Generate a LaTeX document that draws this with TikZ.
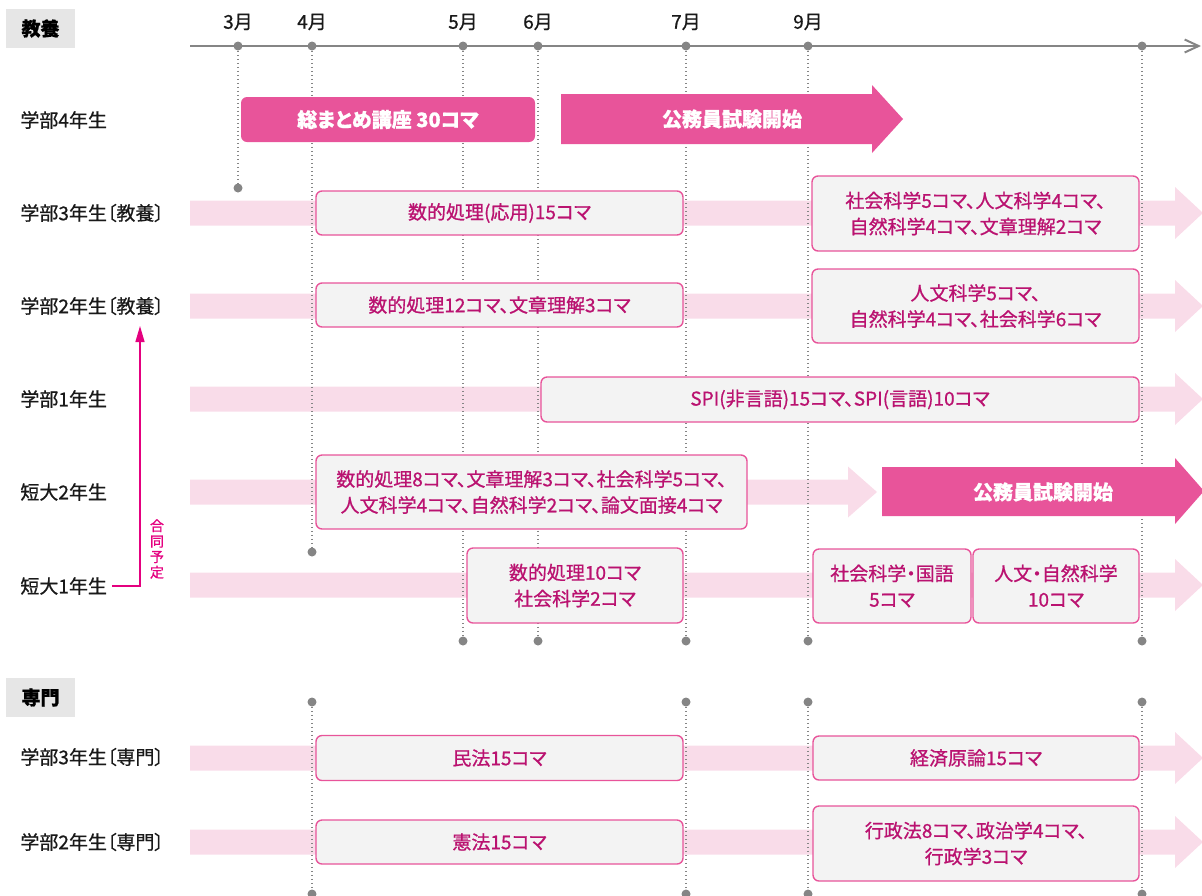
\documentclass[tikz,border=0pt]{standalone}
\usepackage{fontspec}
\setmainfont{Noto Sans CJK JP}[RawFeature=+palt, FakeBold=0.8]
\usetikzlibrary{arrows.meta}

\definecolor{rosa}{RGB}{232,84,154}
\definecolor{rosalight}{RGB}{249,220,233}
\definecolor{komatext}{RGB}{186,18,112}
\definecolor{boxgray}{RGB}{243,243,243}
\definecolor{axisgray}{RGB}{133,133,133}
\definecolor{headgray}{RGB}{230,230,230}
\definecolor{goured}{RGB}{228,0,127}

\begin{document}
\begin{tikzpicture}[
    x=0.5pt, y=-0.5pt,
    every node/.style={font=\fontsize{9.5}{13}\selectfont},
    row/.style={anchor=west, inner sep=0pt, text=black!90},
    head/.style={fill=headgray, minimum width=34.5pt, minimum height=19.5pt, inner sep=0pt, font=\fontsize{9.5}{13}\selectfont\bfseries},
    month/.style={inner sep=0pt, text=black!90},
    koma/.style={draw=rosa, fill=boxgray, line width=0.7pt, rounded corners=3pt, text=komatext, align=center, inner sep=0pt},
    band/.style={fill=rosalight},
    bigarrow/.style={fill=rosa},
    bigtext/.style={text=white, font=\fontsize{10}{13}\selectfont\bfseries},
    guide/.style={axisgray, line width=0.75pt, dash pattern=on 0.75pt off 1.25pt},
    dot/.style={circle, fill=axisgray, inner sep=0pt, minimum size=4.5pt}
]
\useasboundingbox (0,0) rectangle (1202,895);

% 見出し
\node[head] (kyoyo) at (40.5,28.5) {教養};
\node[head] (senmon) at (40.5,697.5) {専門};

% 時間軸
\draw[axisgray, line width=1pt, -{Straight Barb[length=7pt,width=6.5pt]}] (190,46) -- (1201,46);
\foreach \x/\m in {238/3,312/4,463/5,538/6,686/7,808/9} {
  \node[dot] (top\m) at (\x,46) {};
  \node[month] at (\x,22) {\m{}月};
}
\node[dot] (topend) at (1142,46) {};

% 帯
\foreach \y in {213,306,399,585,758,842}
  \fill[band] (190,\y-12.5) -- (1175,\y-12.5) -- (1175,\y-26) -- (1203,\y)
    -- (1175,\y+26) -- (1175,\y+12.5) -- (190,\y+12.5) -- cycle;
\fill[band] (190,479.5) -- (848,479.5) -- (848,466.5) -- (877,492)
  -- (848,517.5) -- (848,504.5) -- (190,504.5) -- cycle;

% 点線
\node[dot] (bot3) at (238,188) {};
\node[dot] (bot4) at (312,552) {};
\foreach \x/\m in {463/5,538/6,686/7,808/9,1142/end}
  \node[dot] (bot\m) at (\x,641) {};
\foreach \m in {3,4,5,6,7,9,end}
  \draw[guide] (top\m) -- (bot\m);
\foreach \x/\m in {312/4,686/7,808/9,1142/end} {
  \node[dot] (stop\m) at (\x,702) {};
  \node[dot] (sbot\m) at (\x,894) {};
  \draw[guide] (stop\m) -- (sbot\m);
}

% 左側ラベル
\node[row] (g4) at (20,120) {学部4年生};
\node[row] (g3) at (20,213) {学部3年生〔教養〕};
\node[row] (g2) at (20,306) {学部2年生〔教養〕};
\node[row] (g1) at (20,399) {学部1年生};
\node[row] (tan2) at (20,492) {短大2年生};
\node[row] (tan1) at (20,586) {短大1年生};
\node[row] (sen3) at (20,757) {学部3年生〔専門〕};
\node[row] (sen2) at (20,842) {学部2年生〔専門〕};

% 合同予定
\coordinate (gotop) at (140,326);
\draw[goured, line width=0.7pt, shorten <=2.5pt, -{Triangle[length=8pt,width=4.5pt]}] (tan1.east) -| (gotop);
\node[text=goured, align=center, inner sep=0pt, font=\fontsize{7}{7.75}\selectfont] (goudou) at (157,549) {合\\同\\予\\定};

% 学部4年生
\node[fill=rosa, rounded corners=3pt, minimum width=147pt, minimum height=22.5pt, inner sep=0pt, bigtext] (matome) at (388,119.5) {総まとめ講座 30コマ};
\fill[bigarrow] (561,94) -- (872,94) -- (872,85) -- (903,119) -- (872,153) -- (872,144) -- (561,144) -- cycle;
\node[bigtext] (shiken4) at (732,119) {公務員試験開始};

% 教養の講座
\node[koma, minimum width=183.5pt, minimum height=22pt] (k3a) at (499.5,213) {数的処理(応用)15コマ};
\node[koma, minimum width=163.5pt, minimum height=37.5pt] (k3b) at (975.5,213.5) {社会科学5コマ、人文科学4コマ、\\自然科学4コマ、文章理解2コマ};
\node[koma, minimum width=183.5pt, minimum height=22pt] (k2a) at (499.5,305) {数的処理12コマ、文章理解3コマ};
\node[koma, minimum width=163.5pt, minimum height=37pt] (k2b) at (975.5,306) {人文科学5コマ、\\自然科学4コマ、社会科学6コマ};
\node[koma, minimum width=299pt, minimum height=22.5pt] (k1) at (840,399.5) {SPI(非言語)15コマ、SPI(言語)10コマ};
\node[koma, minimum width=215.5pt, minimum height=37pt] (t2) at (531.5,492) {数的処理8コマ、文章理解3コマ、社会科学5コマ、\\人文科学4コマ、自然科学2コマ、論文面接4コマ};
\node[koma, minimum width=108pt, minimum height=37.5pt] (t1a) at (575,585.5) {数的処理10コマ\\社会科学2コマ};
\node[koma, minimum width=79pt, minimum height=37pt] (t1b) at (892,586) {社会科学・国語\\5コマ};
\node[koma, minimum width=83pt, minimum height=37pt] (t1c) at (1056,586) {人文・自然科学\\10コマ};

% 短大2年生
\fill[bigarrow] (882,467) -- (1175,467) -- (1175,458) -- (1204,491) -- (1175,524) -- (1175,516) -- (882,516) -- cycle;
\node[bigtext] (shiken2) at (1043,492) {公務員試験開始};

% 専門の講座
\node[koma, minimum width=183.5pt, minimum height=22.5pt] (s3a) at (499.5,758) {民法15コマ};
\node[koma, minimum width=163pt, minimum height=22pt] (s3b) at (976,758) {経済原論15コマ};
\node[koma, minimum width=183.5pt, minimum height=22pt] (s2a) at (499.5,842) {憲法15コマ};
\node[koma, minimum width=163pt, minimum height=37.5pt] (s2b) at (976,843.5) {行政法8コマ、政治学4コマ、\\行政学3コマ};

\end{tikzpicture}
\end{document}
